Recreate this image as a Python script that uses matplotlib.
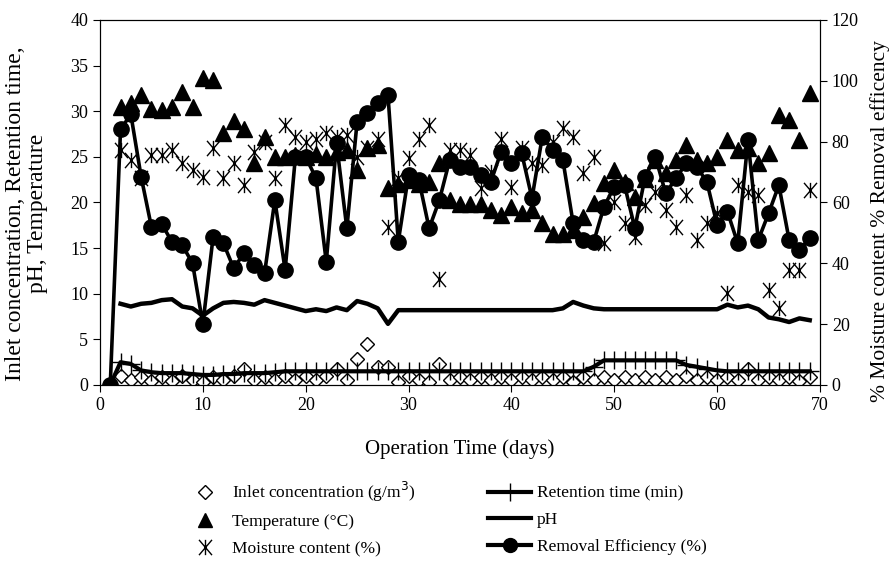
import matplotlib.pyplot as plt
import numpy as np
from matplotlib.path import Path
from matplotlib.lines import Line2D

plt.rcParams['font.family'] = ['Liberation Serif', 'DejaVu Serif']

# Data
days = np.arange(1, 70)
days2 = np.arange(2, 70)

removal = [0, 84, 89, 68.5, 52, 53, 47, 46, 40, 20, 48.7, 46.6, 38.4, 43.3, 39.4, 36.7, 60.8, 37.8,
           75, 75, 68, 40.5, 79.4, 51.5, 86.6, 89.3, 92.6, 95.3, 47.1, 69, 67.4, 51.5, 60.8, 74,
           71.8, 71.8, 69, 66.8, 76.7, 72.9, 76.2, 61.4, 81.6, 77.3, 74, 53.2, 47.7, 47.1, 58.6,
           65.2, 65.7, 51.5, 68.5, 75, 63, 68, 72.9, 71.8, 66.8, 52.6, 57, 46.6, 80.5, 47.7, 56.4,
           65.7, 47.7, 44.4, 48.2]

temperature = [30.5, 30.9, 31.8, 30.3, 30.1, 30.5, 32.1, 30.5, 33.6, 33.4, 27.6, 28.9, 28.1, 24.3,
               27.2, 25.0, 25.0, 25.2, 25.0, 25.3, 25.0, 25.5, 25.8, 23.6, 26.0, 26.3, 21.6, 22.0,
               22.5, 22.0, 22.3, 24.3, 20.3, 19.8, 19.8, 19.8, 19.2, 18.6, 19.5, 18.8, 19.2, 17.7,
               16.6, 16.6, 17.0, 18.4, 19.9, 22.1, 23.6, 22.3, 20.6, 22.6, 24.7, 23.2, 24.7, 26.3,
               24.7, 24.3, 25.0, 26.8, 25.8, 26.0, 24.3, 25.4, 29.6, 29.0, 26.8, 32.0]

moisture = [77.3, 74, 68, 75.6, 75.6, 77.3, 72.9, 70.7, 68.5, 77.8, 68, 72.9, 65.7, 76.7, 80, 68,
            85.5, 81.6, 80, 81, 82.7, 81.6, 82.2, 75, 77.8, 81, 52, 68, 74.5, 81, 85.5, 35, 77.3,
            77.3, 75.6, 64.7, 70, 81, 65.2, 77.8, 73, 72.3, 80, 84.4, 81.6, 69.6, 75, 46.6, 60.3,
            53.2, 48.8, 59.2, 63.6, 57.5, 52, 62.5, 47.7, 53.2, 56.4, 30.1, 65.7, 63.6, 62.5, 31.2,
            25.2, 37.8, 37.8, 64.1]

# pH, days 2..69
ph = [8.9, 8.6, 8.9, 9.0, 9.3, 9.4, 8.6, 8.4, 7.6, 8.4,      # 2-11
      9.0, 9.1, 9.0, 8.8, 9.3, 9.0, 8.7, 8.4, 8.1, 8.3,      # 12-21
      8.1, 8.5, 8.2, 9.2, 8.9, 8.4, 6.7, 8.2, 8.2, 8.2,      # 22-31
      8.2, 8.2, 8.2, 8.2, 8.2, 8.2, 8.2, 8.2, 8.2, 8.2,      # 32-41
      8.2, 8.2, 8.2, 8.4, 9.1, 8.7, 8.4, 8.3, 8.3, 8.3,      # 42-51
      8.3, 8.3, 8.3, 8.3, 8.3, 8.3, 8.3, 8.3, 8.3, 8.8,      # 52-61
      8.5, 8.7, 8.3, 7.4, 7.2, 6.9, 7.3, 7.1]                # 62-69

retention = [0, 2.5, 2.3, 1.6, 1.4, 1.3, 1.3, 1.3, 1.2, 1.1, 1.1, 1.2, 1.2, 1.3, 1.3, 1.3, 1.4,
             1.5, 1.5, 1.5, 1.5, 1.5, 1.5, 1.5, 1.5, 1.5, 1.5, 1.5, 1.5, 1.5, 1.5, 1.5, 1.5, 1.5,
             1.5, 1.5, 1.5, 1.5, 1.5, 1.5, 1.5, 1.5, 1.5, 1.5, 1.5, 1.5, 1.5, 2.0, 2.7, 2.7, 2.7,
             2.7, 2.7, 2.7, 2.7, 2.7, 2.2, 2.0, 1.8, 1.6, 1.5, 1.5, 1.5, 1.5, 1.5, 1.5, 1.5, 1.5,
             1.5]

inlet = [0, 1.0, 0.5, 0.9, 0.4, 0.9, 0.4, 1.0, 0.5, 0.3, 0.9, 0.5, 1.0, 1.7, 0.6, 0.9, 0.5, 1.0,
         0.6, 1.0, 0.5, 1.0, 1.8, 0.5, 2.8, 4.5, 2.0, 2.0, 0.3, 1.0, 0.6, 0.3, 2.3, 0.5, 0.9, 0.5,
         0.9, 0.5, 0.9, 0.5, 0.9, 0.5, 0.9, 0.5, 0.9, 0.3, 0.9, 0.5, 0.9, 0.5, 0.9, 0.5, 0.9, 0.5,
         0.9, 0.5, 1.0, 0.6, 0.9, 0.5, 0.9, 0.5, 1.8, 0.5, 0.9, 0.5, 0.9, 0.4, 0.9]

# asterisk marker: vertical bar + X
ast = Path([(0, -1), (0, 1), (-0.85, -1), (0.85, 1), (-0.85, 1), (0.85, -1)],
           [Path.MOVETO, Path.LINETO] * 3)

fig = plt.figure(figsize=(8.95, 5.68), dpi=100)
ax = fig.add_axes([0.1117, 0.3222, 0.8045, 0.6426])
ax2 = ax.twinx()

ax.plot(days, inlet, linestyle='none', marker='D', ms=7, mfc='white', mec='black', mew=1)
ax.plot(days, retention, color='black', lw=3, marker='+', ms=13, mew=1)
ax.plot(days2, ph, color='black', lw=3.2)
ax.plot(days2, temperature, linestyle='none', marker='^', ms=11, color='black')

ax2.plot(days2, moisture, linestyle='none', marker=ast, ms=11, mfc='none', mec='black', mew=1)
ax2.plot(days, removal, color='black', lw=2.6, marker='o', ms=11)

ax.set_xlim(0, 70)
ax.set_ylim(0, 40)
ax2.set_ylim(0, 120)
ax.set_xticks(range(0, 71, 10))
ax.set_yticks(range(0, 41, 5))
ax2.set_yticks(range(0, 121, 20))
ax.tick_params(labelsize=13, direction='out', length=5)
ax2.tick_params(labelsize=13, direction='out', length=5)

ax.set_xlabel('Operation Time (days)', fontsize=15, labelpad=18)
ax.set_ylabel('Inlet concentration, Retention time,\npH, Temperature', fontsize=17,
              linespacing=1.05)
ax.yaxis.set_label_coords(-0.072, 0.47)
ax2.set_ylabel('% Moisture content % Removal efficency', fontsize=15.5)
ax2.yaxis.set_label_coords(1.07, 0.45)

handles = [
    Line2D([], [], linestyle='none', marker='D', ms=7, mfc='white', mec='black'),
    Line2D([], [], linestyle='none', marker='^', ms=10, color='black'),
    Line2D([], [], linestyle='none', marker=ast, ms=11, mfc='none', mec='black'),
    Line2D([], [], color='black', lw=3, marker='+', ms=13, mew=1),
    Line2D([], [], color='black', lw=3),
    Line2D([], [], color='black', lw=3, marker='o', ms=10),
]
labels = ['Inlet concentration (g/m$^3$)', 'Temperature (\u00b0C)', 'Moisture content (%)',
          'Retention time (min)', 'pH', 'Removal Efficiency (%)']
fig.legend(handles, labels, loc='upper center', bbox_to_anchor=(0.497, 0.183), ncol=2,
           frameon=False, fontsize=12.5, handlelength=2.5, handletextpad=0.3,
           columnspacing=4.2, labelspacing=0.6)

plt.savefig('out.png', dpi=100)
